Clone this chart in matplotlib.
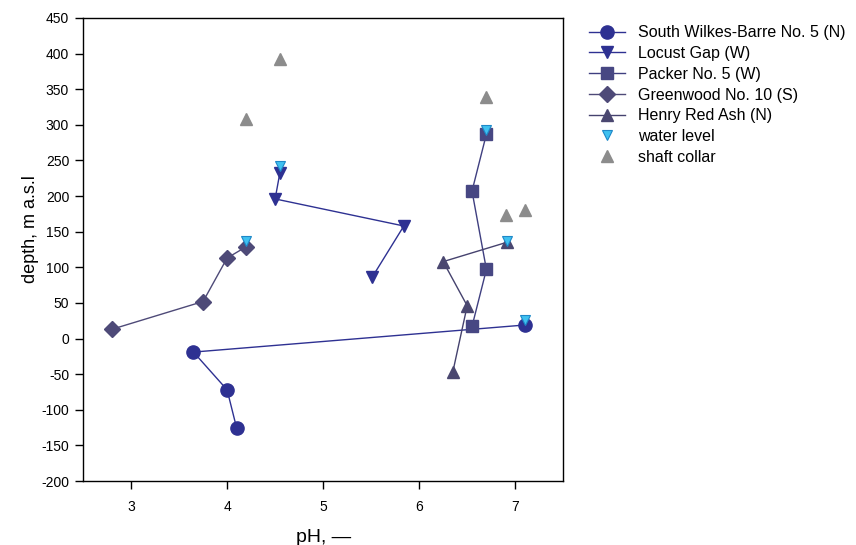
import matplotlib
matplotlib.use("Agg")
import matplotlib.pyplot as plt
from matplotlib.ticker import MultipleLocator

plt.rcParams['font.family'] = ['Liberation Sans', 'DejaVu Sans']
plt.rcParams['axes.unicode_minus'] = False

# Series data (pH, depth m a.s.l.)
swb_ph = [7.10, 3.65, 4.00, 4.10]
swb_depth = [19, -19, -72, -126]

locust_ph = [4.55, 4.50, 5.84, 5.51]
locust_depth = [233, 196, 158, 86]

packer_ph = [6.70, 6.55, 6.70, 6.55]
packer_depth = [287, 207, 97, 17]

greenwood_ph = [2.80, 3.75, 4.00, 4.20]
greenwood_depth = [13, 52, 113, 129]

henry_ph = [6.91, 6.25, 6.50, 6.35]
henry_depth = [135, 108, 46, -47]

water_ph = [7.10, 4.55, 6.70, 4.20, 6.91]
water_depth = [26, 242, 293, 137, 137]

collar_ph = [4.55, 4.20, 6.70, 6.90, 7.10]
collar_depth = [393, 308, 339, 173, 181]

labels = ["South Wilkes-Barre No. 5 (N)", "Locust Gap (W)", "Packer No. 5 (W)",
          "Greenwood No. 10 (S)", "Henry Red Ash (N)", "water level", "shaft collar"]

fig = plt.figure(figsize=(8.56, 5.45), dpi=100)
ax = fig.add_axes([0.097, 0.1174, 0.561, 0.8496])

ax.plot(swb_ph, swb_depth, color='#2E3192', lw=1.0, marker='o', ms=9.5,
        mfc='#2E3192', mec='#2E3192', label=labels[0], zorder=3)
ax.plot(locust_ph, locust_depth, color='#2E3192', lw=1.0, marker='v', ms=9,
        mfc='#2E3192', mec='#2E3192', label=labels[1], zorder=3)
ax.plot(packer_ph, packer_depth, color='#3F3F80', lw=1.0, marker='s', ms=8,
        mfc='#474783', mec='#474783', label=labels[2], zorder=3)
ax.plot(greenwood_ph, greenwood_depth, color='#4E4A78', lw=1.0, marker='D', ms=8,
        mfc='#4E4A78', mec='#4E4A78', label=labels[3], zorder=3)
ax.plot(henry_ph, henry_depth, color='#45426E', lw=1.0, marker='^', ms=9,
        mfc='#4A4770', mec='#4A4770', label=labels[4], zorder=3)
ax.plot(water_ph, water_depth, ls='none', marker='v', ms=6.5,
        mfc='#3FC1F0', mec='#1E88C8', mew=0.8, label=labels[5], zorder=4)
ax.plot(collar_ph, collar_depth, ls='none', marker='^', ms=8.5,
        mfc='#8C8C8C', mec='#8C8C8C', label=labels[6], zorder=4)

ax.set_xlim(2.5, 7.5)
ax.set_ylim(-200, 450)
ax.set_xticks([3, 4, 5, 6, 7])
ax.yaxis.set_major_locator(MultipleLocator(50))
ax.tick_params(axis='both', direction='out', length=5.5, width=1, labelsize=10)
ax.tick_params(axis='y', pad=4.5)
ax.tick_params(axis='x', pad=8)
for s in ax.spines.values():
    s.set_linewidth(1.0)

ax.set_xlabel('pH, —', fontsize=14, labelpad=11)
ax.set_ylabel('depth, m a.s.l', fontsize=13)
ax.yaxis.set_label_coords(-0.092, 0.544)

leg = ax.legend(loc='upper left', bbox_to_anchor=(1.04, 0.998), frameon=False,
                fontsize=11.5, handlelength=2.25, labelspacing=0.36,
                handletextpad=0.8, borderaxespad=0.0)

fig.savefig('out.png', dpi=100)
